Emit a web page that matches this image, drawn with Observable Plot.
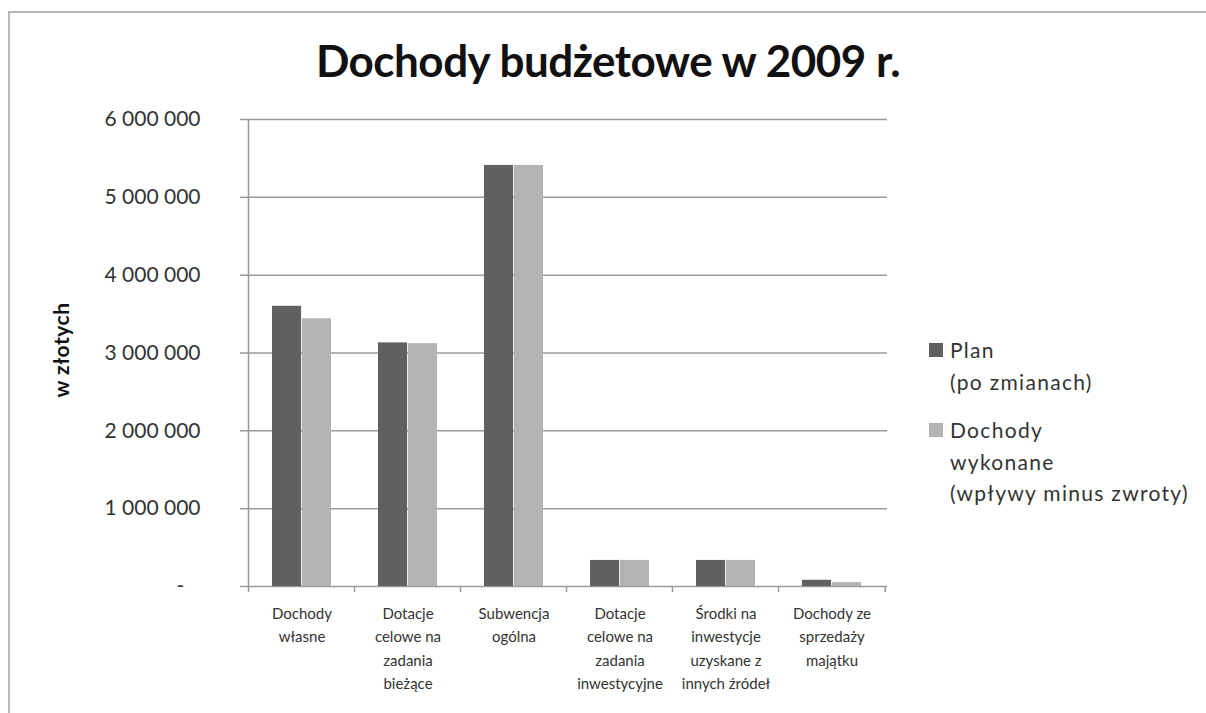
<!DOCTYPE html>
<html><head><meta charset="utf-8">
<script src="https://cdn.jsdelivr.net/npm/d3@7"></script>
<script src="https://cdn.jsdelivr.net/npm/@observablehq/plot@0.6"></script>
<style>
body{margin:0;background:#fff;}
#wrap{position:relative;width:1206px;height:713px;overflow:hidden;font-family:Lato,"Open Sans",sans-serif;color:#222;}
#frame{position:absolute;left:8px;top:11px;width:1300px;height:800px;border-top:2px solid #b8b8b8;border-left:2px solid #b8b8b8;}
#title{position:absolute;left:0;width:1216px;top:34px;text-align:center;font-size:44px;font-weight:700;letter-spacing:-0.5px;color:#111;}
#chart{position:absolute;left:0;top:0;}
#ylabel{position:absolute;left:60px;top:350px;transform:translate(-50%,-50%) rotate(-90deg);font-size:21px;font-weight:700;white-space:nowrap;color:#111;letter-spacing:0.5px;}
.leg{position:absolute;left:950px;font-size:21px;line-height:31.5px;color:#333;letter-spacing:1.3px;white-space:nowrap;}
.sw{position:absolute;left:-21px;top:9px;width:14px;height:14px;}
</style></head>
<body>
<div id="wrap">
  <div id="frame"></div>
  <div id="chart"></div>
  <div id="title"></div>
  <div id="ylabel"></div>
  <div id="legend"></div>
</div>
<script>
const title = "Dochody budżetowe w 2009 r.";
const yAxisLabel = "w złotych";
const categories = [
  "Dochody\nwłasne",
  "Dotacje\ncelowe na\nzadania\nbieżące",
  "Subwencja\nogólna",
  "Dotacje\ncelowe na\nzadania\ninwestycyjne",
  "Środki na\ninwestycje\nuzyskane z\ninnych źródeł",
  "Dochody ze\nsprzedaży\nmajątku"
];
const seriesNames = ["Plan\n(po zmianach)", "Dochody\nwykonane\n(wpływy minus zwroty)"];
const planValues = [3600000, 3130000, 5410000, 335000, 335000, 80000];
const actualValues = [3440000, 3120000, 5410000, 335000, 335000, 50000];
const yTicks = [0, 1000000, 2000000, 3000000, 4000000, 5000000, 6000000];
const colors = ["#606060", "#b3b3b3"];

const planRows = categories.map((c, i) => ({category: c, series: seriesNames[0], value: planValues[i]}));
const actualRows = categories.map((c, i) => ({category: c, series: seriesNames[1], value: actualValues[i]}));

const W = 1206, H = 713;
const mL = 246, mR = 319, mT = 119, mB = 127;
const pInner = 0.44;
const step = (W - mL - mR) / categories.length;
const half = step * (1 - pInner) / 2;

const fmt = d => d === 0 ? "-\u00a0\u00a0\u00a0" : d3.format(",")(d).replace(/,/g, " ");

const axisLines = (index, scales) => {
  const {x, y} = scales;
  const g = d3.create("svg:g").attr("stroke", "#9a9a9a").attr("stroke-width", 1.5).attr("fill", "none");
  const x0 = x(categories[0]) - step * pInner / 2;
  const x1 = x(categories[categories.length - 1]) + step * (1 - pInner / 2);
  g.append("line").attr("x1", x0).attr("x2", x0).attr("y1", y(yTicks[yTicks.length - 1])).attr("y2", y(0));
  const bounds = categories.map(c => x(c) - step * pInner / 2).concat([x1]);
  for (const b of bounds) g.append("line").attr("x1", b).attr("x2", b).attr("y1", y(0)).attr("y2", y(0) + 6);
  return g.node();
};

const plot = Plot.plot({
  width: W, height: H,
  marginLeft: mL, marginRight: mR, marginTop: mT, marginBottom: mB,
  style: {fontFamily: "Lato, 'Open Sans', sans-serif", color: "#222", background: "transparent"},
  x: {domain: categories, paddingInner: pInner, paddingOuter: pInner / 2, label: null},
  y: {domain: [0, 6000000], label: null},
  marks: [
    Plot.gridY(yTicks.slice(1), {stroke: "#9a9a9a", strokeOpacity: 1, strokeWidth: 1.5}),
    Plot.ruleY([0], {stroke: "#9a9a9a", strokeWidth: 1.5}),
    Plot.barY(planRows, {x: "category", y: "value", fill: colors[0], insetRight: half}),
    Plot.barY(actualRows, {x: "category", y: "value", fill: colors[1], insetLeft: half}),
    axisLines,
    Plot.axisY({ticks: yTicks, tickFormat: fmt, tickSize: 6, tickPadding: 40, fontSize: 21, stroke: "#9a9a9a", strokeWidth: 1.5, label: null, fill: "#333", style: {letterSpacing: "0.3px"}}),
    Plot.axisX({tickSize: 0, tickPadding: 16, fontSize: 15, lineHeight: 1.55, label: null, fill: "#333", tickFormat: d => d, style: {letterSpacing: "0.9px"}})
  ]
});
document.getElementById("chart").appendChild(plot);
document.getElementById("title").textContent = title;
document.getElementById("ylabel").textContent = yAxisLabel;

const legendTops = [334, 414];
const legend = document.getElementById("legend");
seriesNames.forEach((s, i) => {
  const d = document.createElement("div");
  d.className = "leg";
  d.style.top = legendTops[i] + "px";
  const sw = document.createElement("div");
  sw.className = "sw";
  sw.style.background = colors[i];
  d.appendChild(sw);
  s.split("\n").forEach((line, j) => {
    if (j) d.appendChild(document.createElement("br"));
    d.appendChild(document.createTextNode(line));
  });
  legend.appendChild(d);
});
</script>
</body></html>
